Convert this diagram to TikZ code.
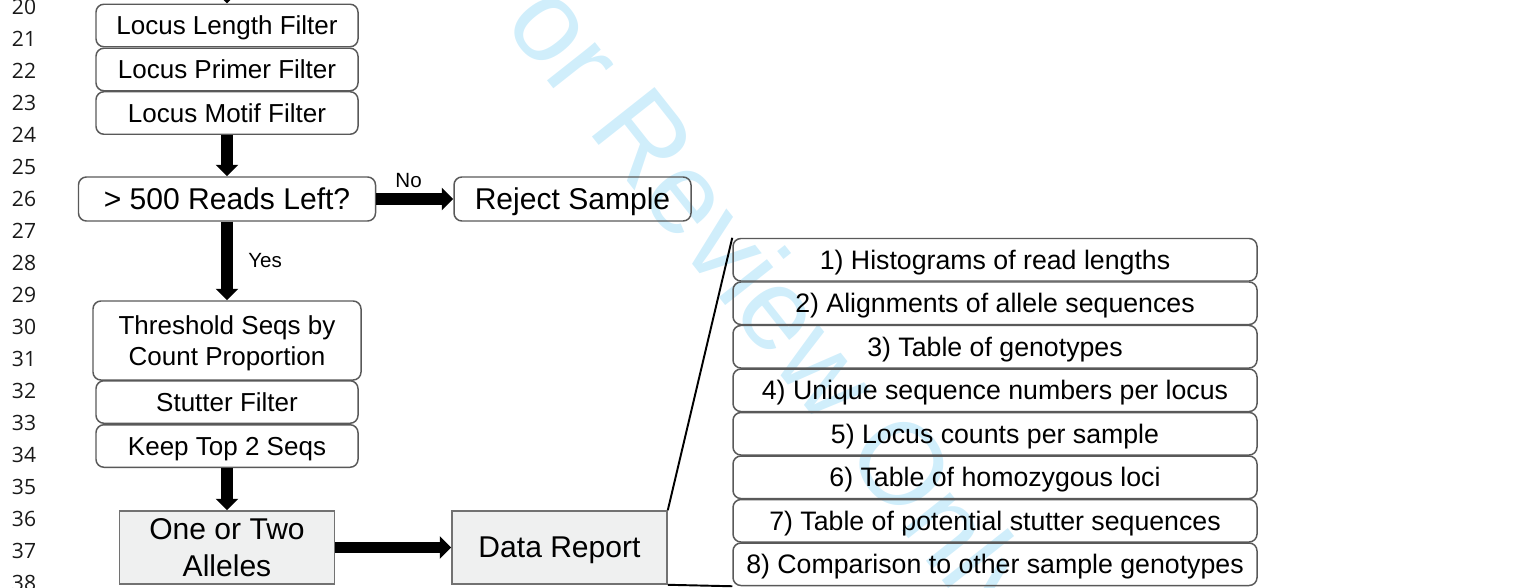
\documentclass[tikz,border=0pt]{standalone}
\usepackage{fontspec}
\setmainfont{Liberation Sans}
\newfontfamily\numfont{Open Sans}
\usetikzlibrary{arrows.meta}

\definecolor{borde}{RGB}{89,89,89}
\definecolor{gris}{RGB}{239,240,240}
\definecolor{marca}{RGB}{208,238,251}

\tikzset{
  caja/.style={draw=borde, line width=0.85pt, rounded corners=4.5pt, minimum width=5.24cm, minimum height=0.85cm, inner sep=0pt, text depth=0pt, align=center, font=\fontsize{14.8}{17.6}\selectfont},
  cajag/.style={caja, minimum width=5.94cm, minimum height=0.88cm, font=\fontsize{17.1}{20.5}\selectfont},
  final/.style={draw=borde!85, fill=gris, line width=0.9pt, minimum width=4.3cm, minimum height=1.46cm, inner sep=0pt, text depth=0pt, align=center, font=\fontsize{17.1}{20.5}\selectfont},
  item/.style={caja, minimum width=10.48cm, minimum height=0.85cm, font=\fontsize{15.2}{18}\selectfont},
  flecha/.style={line width=6.3pt, -{Triangle[width=12.5pt,length=6.5pt]}},
  etiq/.style={font=\fontsize{11.7}{14}\selectfont},
  num/.style={font=\numfont\fontsize{12}{14}\selectfont, text=black!90},
}

\begin{document}
\begin{tikzpicture}
    \useasboundingbox (0,0) rectangle (30.26,11.74);
    \clip (0,0) rectangle (30.26,11.74);

    % marca de agua
    \node[anchor=base west, rotate=-51.7, text=marca, inner sep=0pt, font=\fontsize{66}{70}\selectfont] (sello) at (9.17,12.384) {For Review Only};

    % numeros de linea
    \foreach \n in {20,...,38}
        \node[num] (l\n) at (0.48,{(548.5-32*(\n-21))/50}) {\n};

    % filtros
    \coordinate (entrada) at (4.54,12.6);
    \node[caja] (len) at (4.54,11.23) {Locus Length Filter};
    \node[caja] (pri) at (4.54,10.35) {Locus Primer Filter};
    \node[caja] (mot) at (4.54,9.48) {Locus Motif Filter};

    % decision
    \node[cajag] (reads) at (4.54,7.76) {> 500 Reads Left?};
    \node[cajag, minimum width=4.74cm] (reject) at (11.45,7.76) {Reject Sample};

    % umbral y stutter
    \node[caja, minimum width=5.36cm, minimum height=1.58cm] (thresh) at (4.54,4.93) {Threshold Seqs by\\Count Proportion};
    \node[caja] (stut) at (4.54,3.70) {Stutter Filter};
    \node[caja] (keep) at (4.54,2.82) {Keep Top 2 Seqs};

    % resultado
    \node[final] (one) at (4.54,0.79) {One or Two\\Alleles};
    \node[final] (data) at (11.19,0.79) {Data Report};

    % reporte
    \node[item] (r1) at (19.90,6.545) {1) Histograms of read lengths};
    \node[item] (r2) at (19.90,5.675) {2) Alignments of allele sequences};
    \node[item] (r3) at (19.90,4.805) {3) Table of genotypes};
    \node[item] (r4) at (19.90,3.935) {4) Unique sequence numbers per locus};
    \node[item] (r5) at (19.90,3.065) {5) Locus counts per sample};
    \node[item] (r6) at (19.90,2.195) {6) Table of homozygous loci};
    \node[item] (r7) at (19.90,1.325) {7) Table of potential stutter sequences};
    \node[item] (r8) at (19.90,0.455) {8) Comparison to other sample genotypes};

    % flechas
    \draw[flecha] (entrada) -- (len);
    \draw[flecha] (mot) -- (reads);
    \draw[flecha] (reads) -- node[etiq, pos=0.42, above=0cm] {No} (reject);
    \draw[flecha] (reads) -- node[etiq, right=0.2cm] {Yes} (thresh);
    \draw[flecha] (keep) -- (one);
    \draw[flecha] (one) -- (data);

    % lineas al reporte
    \draw[line width=1.1pt] (data.north east) -- (r1.north west);
    \draw[line width=1.1pt] (data.south east) -- (r8.south west);

\end{tikzpicture}
\end{document}
